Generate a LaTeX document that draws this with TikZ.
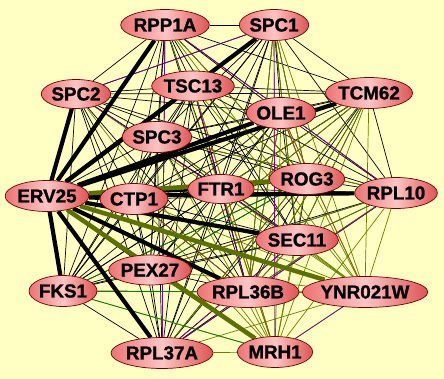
\documentclass[tikz,border=0pt]{standalone}
\usepackage{fontspec}
\newfontfamily\genefont{Liberation Sans Bold}[FakeBold=1.2]
\usetikzlibrary{shapes.geometric}
\pgfdeclarelayer{bgl}
\pgfdeclarelayer{edges}
\pgfsetlayers{bgl,edges,main}
\definecolor{bg}{RGB}{255,255,196}
\definecolor{nL}{RGB}{236,116,116}
\definecolor{nM}{RGB}{255,196,196}
\definecolor{nR}{RGB}{222,84,84}
\definecolor{nB}{RGB}{110,0,0}
\definecolor{eOl}{RGB}{104,128,0}
\definecolor{eOlT}{RGB}{92,112,0}
\definecolor{ePu}{RGB}{128,0,140}
\definecolor{eGr}{RGB}{0,128,0}
\definecolor{eBr}{RGB}{150,80,20}
\begin{document}
\begin{tikzpicture}[x=1pt,y=-1pt,
 gene/.style={ellipse, draw=nB, line width=0.7pt, left color=nL, right color=nR, middle color=nM, inner sep=0pt, minimum height=31pt, font=\genefont\fontsize{18.8}{20}\selectfont},
 ebk/.style={draw=black, line width=0.7pt},
 eol/.style={draw=eOl, line width=0.7pt},
 epu/.style={draw=ePu, line width=0.7pt},
 egr/.style={draw=eGr, line width=0.7pt},
 ebr/.style={draw=eBr, line width=0.7pt},
 ethick/.style={draw=black, line width=4.2pt},
 emid/.style={draw=black, line width=2.5pt},
 eolthick/.style={draw=eOlT, line width=4.5pt},
]
\begin{pgfonlayer}{bgl}
\fill[bg] (0,0) rectangle (444,379);
\end{pgfonlayer}
\useasboundingbox (0,0) rectangle (444,379);

\node[gene, minimum width=74pt] (RPP1A) at (165,25) {RPP1A};
\node[gene, minimum width=62pt] (SPC1) at (274,25) {SPC1};
\node[gene, minimum width=72pt, minimum height=30pt] (TSC13) at (193,86) {TSC13};
\node[gene, minimum width=60pt, minimum height=29pt] (SPC2) at (76,94) {SPC2};
\node[gene, minimum width=76pt] (TCM62) at (369,93) {TCM62};
\node[gene, minimum width=62pt] (OLE1) at (281,113) {OLE1};
\node[gene, minimum width=61pt] (SPC3) at (157,137) {SPC3};
\node[gene, minimum width=74pt] (ERV25) at (47,196) {ERV25};
\node[gene, minimum width=62pt] (CTP1) at (134,199) {CTP1};
\node[gene, minimum width=62pt, minimum height=29pt] (FTR1) at (221,189) {FTR1};
\node[gene, minimum width=68pt] (ROG3) at (307,179) {ROG3};
\node[gene, minimum width=72pt] (RPL10) at (396,193) {RPL10};
\node[gene, minimum width=72pt] (SEC11) at (297,240) {SEC11};
\node[gene, minimum width=70pt, minimum height=30pt] (PEX27) at (150,270) {PEX27};
\node[gene, minimum width=62pt] (FKS1) at (63,291) {FKS1};
\node[gene, minimum width=85pt] (RPL36B) at (248,292) {RPL36B};
\node[gene, minimum width=82pt] (RPL37A) at (162,353) {RPL37A};
\node[gene, minimum width=102pt] (YNR021W) at (365,292) {YNR021W};
\node[gene, minimum width=67pt] (MRH1) at (275,352) {MRH1};

\begin{pgfonlayer}{edges}
\foreach \a [count=\i] in {RPP1A,SPC1,TSC13,SPC2,TCM62,OLE1,SPC3,ERV25,CTP1,FTR1,ROG3,RPL10,SEC11,PEX27,FKS1,RPL36B,RPL37A,YNR021W,MRH1}{
  \foreach \b [count=\j] in {RPP1A,SPC1,TSC13,SPC2,TCM62,OLE1,SPC3,ERV25,CTP1,FTR1,ROG3,RPL10,SEC11,PEX27,FKS1,RPL36B,RPL37A,YNR021W,MRH1}{
    \ifnum\j>\i
      \ifnum\j>17 \draw[eol] (\a) -- (\b); \else \draw[ebk] (\a) -- (\b); \fi
    \fi
  }
}
\foreach \a/\b in {TCM62/RPL36B,TCM62/RPL37A,TCM62/SEC11,TCM62/PEX27,TCM62/FTR1,SPC1/ROG3,SPC1/SEC11,SPC1/RPL36B,OLE1/RPL36B,RPL10/SEC11,RPL10/RPL36B,RPL10/PEX27,TSC13/ROG3,RPP1A/ROG3,SPC3/RPL10,SEC11/RPL36B}
  \draw[eol] (\a) -- (\b);
\foreach \a/\b in {SPC1/SPC2,RPP1A/RPL10,RPP1A/RPL37A,RPL10/RPL37A,SEC11/RPL37A,YNR021W/MRH1,SPC1/MRH1,SPC2/SEC11,TSC13/RPL36B}
  \draw[epu] (\a) -- (\b);
\foreach \a/\b in {FKS1/RPL36B,FKS1/MRH1,FKS1/ROG3,PEX27/ROG3}
  \draw[egr] (\a) -- (\b);
\foreach \a/\b in {OLE1/YNR021W,CTP1/RPL36B,TSC13/MRH1,OLE1/ROG3}
  \draw[ebr] (\a) -- (\b);
\foreach \b in {RPP1A,SPC2,SPC1,TSC13,OLE1,TCM62,CTP1,FKS1,RPL37A,RPL36B,SEC11,RPL10}
  \draw[ethick] (ERV25) -- (\b);
\draw[emid] (ERV25) -- (FTR1);
\foreach \b in {ROG3,YNR021W,MRH1}
  \draw[eolthick] (ERV25) -- (\b);
\end{pgfonlayer}
\end{tikzpicture}
\end{document}
